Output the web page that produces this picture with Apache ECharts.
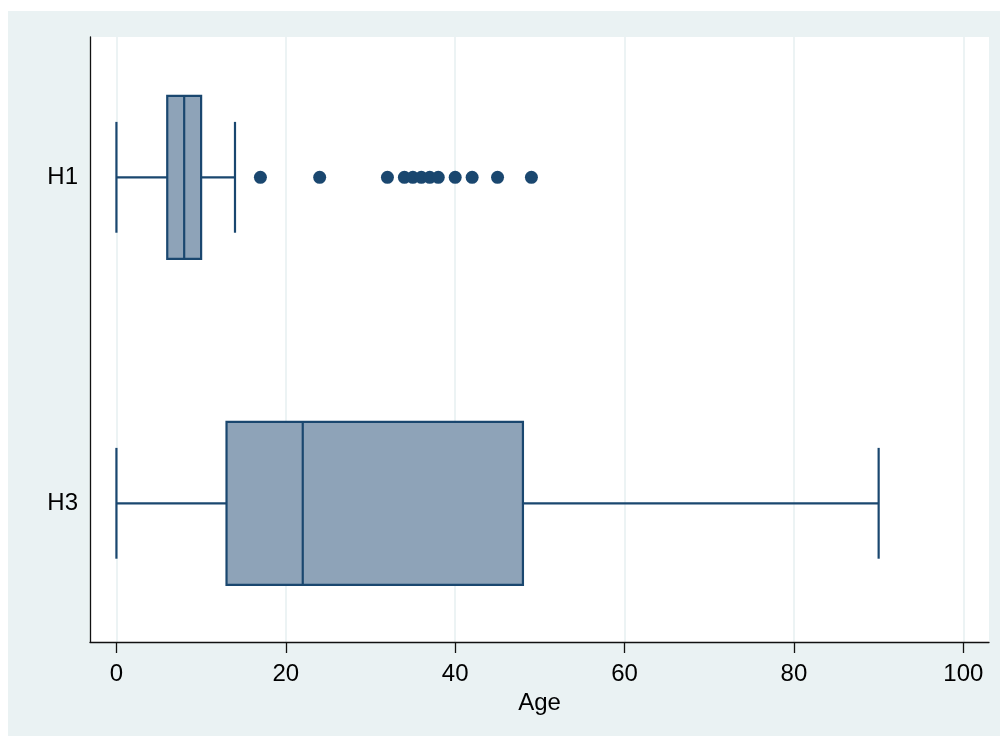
<!DOCTYPE html>
<html>
<head>
<meta charset="utf-8">
<script src="https://cdn.jsdelivr.net/npm/echarts@6/dist/echarts.min.js"></script>
<style>
  html, body { margin: 0; padding: 0; background: #ffffff; width: 1000px; height: 736px; overflow: hidden; }
  #chart { position: absolute; left: 8px; top: 11px; width: 992px; height: 725px; }
</style>
</head>
<body>
<div id="chart"></div>
<script>
// Age distribution by group: box summaries and outlying values
const categories = ['H1', 'H3'];
const whiskerLow = [0, 0];
const quartile1 = [6, 13];
const medians = [8, 22];
const quartile3 = [10, 48];
const whiskerHigh = [14, 90];
const outliersH1 = [17, 24, 32, 34, 35, 36, 37, 38, 40, 42, 45, 49];
const xTicks = [0, 20, 40, 60, 80, 100];
const axisTitle = 'Age';

const NAVY = '#1a476f';
const BOX_FILL = '#8ea3b8';
const FONT = "'Liberation Sans', Arial, sans-serif";

// Each group sits at position index + 1 on the vertical value axis
const boxData = categories.map((c, i) => [
  i + 1, whiskerLow[i], quartile1[i], medians[i], quartile3[i], whiskerHigh[i]
]);
const outlierData = outliersH1.map(v => [v, categories.indexOf('H1') + 1]);

function renderBox(params, api) {
  const pos = api.value(0);
  const lo = api.value(1), q1 = api.value(2), med = api.value(3), q3 = api.value(4), hi = api.value(5);
  const pt = v => api.coord([v, pos]);
  const halfBox = api.size([0, 0.25])[1];
  const halfCap = api.size([0, 0.17])[1];
  const pLo = pt(lo), pQ1 = pt(q1), pMed = pt(med), pQ3 = pt(q3), pHi = pt(hi);
  const cy = pLo[1];
  const line = { stroke: NAVY, lineWidth: 2.2, fill: null };
  return {
    type: 'group',
    children: [
      { type: 'line', shape: { x1: pLo[0], y1: cy, x2: pQ1[0], y2: cy }, style: line },
      { type: 'line', shape: { x1: pQ3[0], y1: cy, x2: pHi[0], y2: cy }, style: line },
      { type: 'line', shape: { x1: pLo[0], y1: cy - halfCap, x2: pLo[0], y2: cy + halfCap }, style: line },
      { type: 'line', shape: { x1: pHi[0], y1: cy - halfCap, x2: pHi[0], y2: cy + halfCap }, style: line },
      { type: 'rect', shape: { x: pQ1[0], y: cy - halfBox, width: pQ3[0] - pQ1[0], height: 2 * halfBox },
        style: { fill: BOX_FILL, stroke: NAVY, lineWidth: 2.2 } },
      { type: 'line', shape: { x1: pMed[0], y1: cy - halfBox, x2: pMed[0], y2: cy + halfBox }, style: line }
    ]
  };
}

const chart = echarts.init(document.getElementById('chart'), null, { renderer: 'canvas' });
chart.setOption({
  backgroundColor: '#eaf2f3',
  animation: false,
  grid: {
    left: 82, right: 11, top: 26, bottom: 94,
    show: true, backgroundColor: '#ffffff', borderWidth: 0
  },
  xAxis: {
    type: 'value',
    min: -3.12, max: 103.03,
    name: axisTitle,
    nameLocation: 'middle',
    nameGap: 37,
    nameTextStyle: { fontFamily: FONT, fontSize: 24, color: '#000' },
    axisLine: { show: true, onZero: false, lineStyle: { color: '#111', width: 1.3 } },
    axisTick: { show: true, customValues: xTicks, length: 11, lineStyle: { color: '#111', width: 1.3 } },
    axisLabel: { customValues: xTicks, fontFamily: FONT, fontSize: 24, color: '#000', margin: 20 },
    splitLine: { show: true, lineStyle: { color: '#e6eff0', width: 1.5 } }
  },
  yAxis: {
    type: 'value',
    inverse: true,
    min: 0.5696, max: 2.4255,
    axisLine: { show: true, onZero: false, lineStyle: { color: '#111', width: 1.3 } },
    axisTick: { show: false },
    axisLabel: {
      customValues: categories.map((c, i) => i + 1),
      formatter: v => categories[Math.round(v) - 1] || '',
      fontFamily: FONT, fontSize: 24, color: '#000', margin: 12
    },
    splitLine: { show: false }
  },
  series: [
    {
      type: 'custom',
      renderItem: renderBox,
      data: boxData,
      encode: { x: [1, 2, 3, 4, 5], y: 0 },
      z: 3
    },
    {
      type: 'scatter',
      data: outlierData,
      symbol: 'circle',
      symbolSize: 13,
      itemStyle: { color: NAVY, opacity: 1 },
      z: 4
    }
  ]
});
</script>
</body>
</html>
